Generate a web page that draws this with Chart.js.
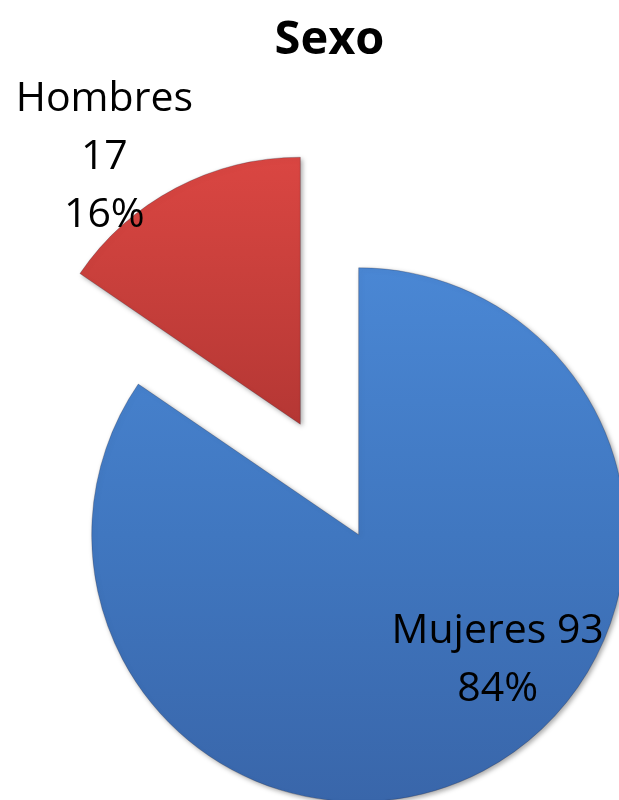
<!DOCTYPE html>
<html><head><meta charset="utf-8">
<script src="https://cdn.jsdelivr.net/npm/chart.js@4.4.1/dist/chart.umd.min.js"></script>
<style>html,body{margin:0;padding:0;background:#fff}canvas{display:block}</style>
</head><body>
<canvas id="c" width="619" height="800"></canvas>
<script>
// ---- data ----
const categories = ['Mujeres', 'Hombres'];
const counts = [93, 17];
const percentLabels = ['84%', '16%'];
const chartTitle = 'Sexo';

// ---- style ----
const RADIUS = 267;
const EXPLODE = 62.5;
const gradStops = [
  ['#4a87d4', '#4077c0', '#3966aa'],
  ['#da4642', '#c73f3b', '#b53734']
];
const labelAnchors = [[139, 108], [-196, -313]]; // first baseline, relative to slice centre
const labelLineHeight = 58;
const labelLines = [
  i => [categories[i] + ' ' + counts[i], percentLabels[i]],
  i => [categories[i], String(counts[i]), percentLabels[i]]
];

function sliceGeom(chart, i) {
  const a = chart.chartArea;
  const vals = chart.data.datasets[0].data;
  const total = vals.reduce((s, v) => s + v, 0);
  let acc = 0; for (let k = 0; k < i; k++) acc += vals[k];
  const start = -Math.PI / 2 + acc / total * 2 * Math.PI;
  const end = start + vals[i] / total * 2 * Math.PI;
  const mid = (start + end) / 2;
  const cx = (a.left + a.right) / 2 + Math.cos(mid) * EXPLODE;
  const cy = (a.top + a.bottom) / 2 + Math.sin(mid) * EXPLODE;
  const ys = [cy, cy + RADIUS * Math.sin(start), cy + RADIUS * Math.sin(end)];
  for (const q of [-Math.PI / 2, Math.PI / 2, 3 * Math.PI / 2, 5 * Math.PI / 2]) {
    if (q > start && q < end) ys.push(cy + RADIUS * Math.sin(q));
  }
  return { cx, cy, top: Math.min(...ys), bottom: Math.max(...ys) };
}

function sliceFill(c) {
  const chart = c.chart;
  const i = c.dataIndex;
  if (!chart.chartArea) return gradStops[i][1];
  const g = sliceGeom(chart, i);
  const grad = chart.ctx.createLinearGradient(0, g.top, 0, g.bottom);
  const s = gradStops[i];
  s.forEach((col, k) => grad.addColorStop(k / (s.length - 1), col));
  return grad;
}

const explodePlugin = {
  id: 'explodeLabels',
  afterDatasetsUpdate(chart) {
    chart.getDatasetMeta(0).data.forEach(arc => {
      const mid = (arc.startAngle + arc.endAngle) / 2;
      arc.x += Math.cos(mid) * EXPLODE;
      arc.y += Math.sin(mid) * EXPLODE;
    });
  },
  beforeDatasetsDraw(chart) {
    const c = chart.ctx;
    c.save();
    c.shadowColor = 'rgba(0,0,0,0.35)';
    c.shadowBlur = 5;
    c.shadowOffsetX = 2;
    c.shadowOffsetY = 2;
  },
  afterDatasetsDraw(chart) {
    const c = chart.ctx;
    c.restore();
    c.save();
    c.font = '41px "Open Sans"';
    c.fillStyle = '#000';
    c.textAlign = 'center';
    c.textBaseline = 'alphabetic';
    chart.getDatasetMeta(0).data.forEach((arc, i) => {
      const lines = labelLines[i](i);
      const [ax, ay] = labelAnchors[i];
      lines.forEach((t, j) => c.fillText(t, arc.x + ax, arc.y + ay + j * labelLineHeight));
    });
    c.restore();
  }
};

new Chart(document.getElementById('c'), {
  type: 'pie',
  data: {
    labels: categories,
    datasets: [{
      data: counts,
      backgroundColor: sliceFill,
      borderColor: 'rgba(30,30,50,0.25)',
      borderWidth: 1,
      radius: RADIUS,
      clip: false
    }]
  },
  options: {
    responsive: false,
    animation: false,
    events: [],
    layout: { padding: { left: 40, right: 0, top: 0, bottom: 0 } },
    plugins: {
      legend: { display: false },
      tooltip: { enabled: false },
      title: {
        display: true,
        text: chartTitle,
        color: '#000',
        font: { family: '"Open Sans"', size: 47, weight: 'bold' },
        padding: { top: 12, bottom: 90.6 }
      }
    }
  },
  plugins: [explodePlugin]
});
</script>
</body></html>
